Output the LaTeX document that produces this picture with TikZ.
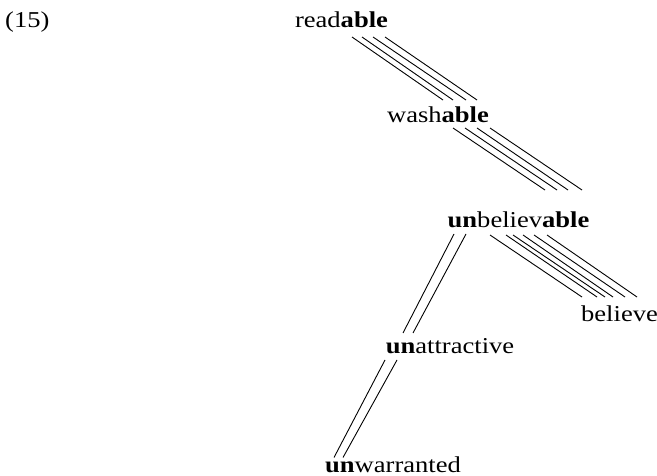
\documentclass[tikz,border=0pt]{standalone}
\usepackage{fontspec}
\setmainfont{Liberation Serif}[FakeStretch=1.17]
\begin{document}
\begin{tikzpicture}[x=1bp,y=-1bp,
  word/.style={inner sep=0pt,anchor=base,font=\fontsize{22.7bp}{27bp}\selectfont},
  ln/.style={line width=0.9bp,black}]
\useasboundingbox (0,0) rectangle (657,476);
\node[word,anchor=base west] (ex) at (5,28) {(15)};
\node[word] (r) at (341.5,28) {read\textbf{able}};
\node[word] (w) at (438,123) {wash\textbf{able}};
\node[word] (u) at (518.5,228) {\textbf{un}believ\textbf{able}};
\node[word] (b) at (619.5,322) {believe};
\node[word] (a) at (450,353) {\textbf{un}attractive};
\node[word] (n) at (393,472.5) {\textbf{un}warranted};
% readable -- washable
\foreach \s/\e in {10.5/5,20.5/15,31.5/28,43.5/39}
  \draw[ln] ([shift={(\s,9)}]r.base) -- ([shift={(\e,-23)}]w.base);
% washable -- unbelievable
\foreach \s/\e in {15/26.5,27/38.5,39/49.5,52/63.5}
  \draw[ln] ([shift={(\s,5)}]w.base) -- ([shift={(\e,-38)}]u.base);
% unbelievable -- believe
\foreach \s/\e in {-28.5/-37.5,-12.5/-22.5,-5.5/-14.5,4.5/-6.5,15.5/5.5,28.5/17.5}
  \draw[ln] ([shift={(\s,7)}]u.base) -- ([shift={(\e,-25)}]b.base);
% unbelievable -- unattractive
\foreach \s/\e in {-64.5/-47,-52.5/-37}
  \draw[ln] ([shift={(\s,6)}]u.base) -- ([shift={(\e,-20)}]a.base);
% unattractive -- unwarranted
\foreach \s/\e in {-65/-59,-53/-50}
  \draw[ln] ([shift={(\s,7)}]a.base) -- ([shift={(\e,-15)}]n.base);
\end{tikzpicture}
\end{document}
